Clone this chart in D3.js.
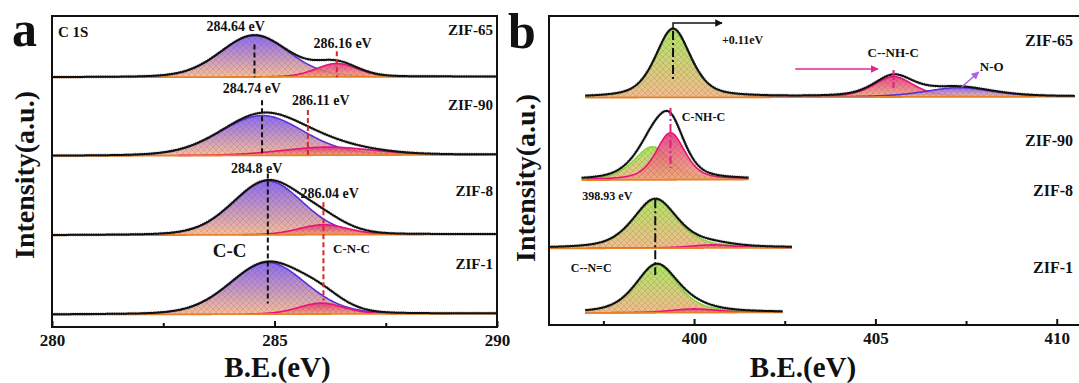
<!DOCTYPE html>
<html>
<head>
<meta charset="utf-8">
<script src="https://cdn.jsdelivr.net/npm/d3@7"></script>
<style>
body { margin: 0; background: #fff; }
text { font-family: "Liberation Serif", "Times New Roman", serif; font-weight: bold; fill: #111; }
</style>
</head>
<body>
<svg id="chart" width="1079" height="383"></svg>
<script>
// ---------- C 1s (panel a) ----------
var cSamples = ["ZIF-65", "ZIF-90", "ZIF-8", "ZIF-1"];
var cOffset = [80.3, 55.0, 29.5, 4.0];
var cMainCenter = [284.55, 284.72, 284.85, 284.85];
var cMainHeight = [13.4, 12.8, 17.3, 16.6];
var cMainFwhm = [1.8, 2.2, 1.85, 2.0];
var cSubCenter = [286.4, 286.2, 286.1, 286.05];
var cSubHeight = [4.3, 2.6, 3.2, 3.5];
var cSubFwhm = [1.1, 2.4, 1.3, 1.2];
var cBgRise = [0.2, 0.4, 0.3, 0.3];
var cTicks = [280, 285, 290];
var cMinor = [282.5, 287.5];
var cMainLabels = ["284.64 eV", "284.74 eV", "284.8 eV"];
var cSubLabels = ["286.16 eV", "286.11 eV", "286.04 eV"];

// ---------- N 1s (panel b) ----------
var nSamples = ["ZIF-65", "ZIF-90", "ZIF-8", "ZIF-1"];
var nOffset = [73.6, 46.9, 24.8, 3.9];
var nStart = [397.0, 396.9, 396.0, 397.0];
var nEnd = [410.5, 401.5, 402.7, 402.45];
var nBgRise = [0.3, 0.2, 0.2, 0.2];
var nCompSample = [0, 0, 0, 1, 1, 2, 2, 3, 3];
var nCompKind = ["green", "pink", "violet", "green", "pink", "green", "pink", "green", "pink"];
var nCompCenter = [399.42, 405.5, 407.3, 398.85, 399.35, 398.93, 400.5, 398.97, 400.0];
var nCompHeight = [22.2, 6.6, 3.0, 10.7, 15.2, 15.9, 1.0, 15.5, 1.2];
var nCompFwhm = [1.15, 1.3, 2.2, 1.2, 0.95, 1.45, 1.4, 1.38, 1.5];
var nTicks = [400, 405, 410];
var nMinor = [397.5, 402.5, 407.5];

var kindStyle = {
  violet: { top: "#7d58f0", bottom: "#f7b68a", line: "#5a2fd8" },
  pink:   { top: "#e6347f", bottom: "#f3a878", line: "#e8127a" },
  green:  { top: "#a2e44c", bottom: "#f1b27c", line: "#84d83c" }
};

var svg = d3.select("#chart");
var defs = svg.append("defs");

Object.keys(kindStyle).forEach(function(k) {
  var gr = defs.append("linearGradient").attr("id", "grad-" + k)
    .attr("x1", 0).attr("y1", 0).attr("x2", 0).attr("y2", 1);
  gr.append("stop").attr("offset", "0%").attr("stop-color", kindStyle[k].top);
  gr.append("stop").attr("offset", "100%").attr("stop-color", kindStyle[k].bottom);
});

var hatch = defs.append("pattern").attr("id", "hatch")
  .attr("width", 6).attr("height", 6).attr("patternUnits", "userSpaceOnUse");
hatch.append("path").attr("d", "M0,0L6,6M6,0L0,6M-1,5L1,7M5,-1L7,1")
  .attr("stroke", "rgba(90,60,70,0.28)").attr("stroke-width", 0.6);

function arrowMarker(id, color) {
  defs.append("marker").attr("id", id)
    .attr("viewBox", "0 0 10 10").attr("refX", 9).attr("refY", 5)
    .attr("markerWidth", 5).attr("markerHeight", 5).attr("orient", "auto")
    .append("path").attr("d", "M0,0L10,5L0,10z").attr("fill", color);
}
arrowMarker("arrBlack", "#111");
arrowMarker("arrPink", "#e0288a");
arrowMarker("arrViolet", "#b060f0");

// pseudo-Voigt line shape
function pv(x, c, h, w, eta) {
  var d = (x - c) / w;
  return h * ((1 - eta) * Math.exp(-4 * Math.LN2 * d * d) + eta / (1 + 4 * d * d));
}

function drawSpectrum(g, x, y, start, end, offset, bgRise, comps, eta) {
  var xs = d3.range(start, end + 0.001, 0.02);
  function bg(v) { return offset + bgRise * (v - start) / (end - start); }

  comps.forEach(function(cp) {
    var pts = xs.filter(function(v) { return pv(v, cp.c, cp.h, cp.w, eta) > cp.h * 0.02; });
    var area = d3.area()
      .x(function(v) { return x(v); })
      .y0(function(v) { return y(bg(v)); })
      .y1(function(v) { return y(bg(v) + pv(v, cp.c, cp.h, cp.w, eta)); });
    g.append("path").attr("d", area(pts)).attr("fill", "url(#grad-" + cp.kind + ")").attr("fill-opacity", 0.88);
    g.append("path").attr("d", area(pts)).attr("fill", "url(#hatch)");
    g.append("path").attr("d", area.lineY1()(pts))
      .attr("fill", "none").attr("stroke", kindStyle[cp.kind].line).attr("stroke-width", 1.6);
  });

  // background
  g.append("path")
    .attr("d", d3.line().x(function(v) { return x(v); }).y(function(v) { return y(bg(v)); })(xs))
    .attr("fill", "none").attr("stroke", "#e8812a").attr("stroke-width", 1.8);

  // envelope / raw data
  var env = d3.line()
    .x(function(v) { return x(v); })
    .y(function(v) {
      var s = bg(v);
      comps.forEach(function(cp) { s += pv(v, cp.c, cp.h, cp.w, eta); });
      return y(s);
    });
  g.append("path").attr("d", env(xs)).attr("fill", "none")
    .attr("stroke", "#555").attr("stroke-width", 3.4).attr("stroke-dasharray", "1,1.3").attr("opacity", 0.55);
  g.append("path").attr("d", env(xs)).attr("fill", "none")
    .attr("stroke", "#111").attr("stroke-width", 2);
}

function vline(g, xp, y1, y2, color, dash) {
  g.append("line").attr("x1", xp).attr("x2", xp).attr("y1", y1).attr("y2", y2)
    .attr("stroke", color).attr("stroke-width", 2).attr("stroke-dasharray", dash);
}

function label(g, xp, yp, txt, size, anchor) {
  return g.append("text").attr("x", xp).attr("y", yp).attr("font-size", size)
    .attr("text-anchor", anchor || "start").text(txt);
}

function frameAndAxis(left, right, top, bottom, x, ticks, minor, clipId) {
  defs.append("clipPath").attr("id", clipId).append("rect")
    .attr("x", left).attr("y", top).attr("width", right - left).attr("height", bottom - top);
  var ax = svg.append("g").attr("transform", "translate(0," + bottom + ")")
    .call(d3.axisBottom(x).tickValues(ticks).tickSizeInner(-6).tickSizeOuter(0).tickPadding(7).tickFormat(d3.format("d")));
  ax.select(".domain").remove();
  ax.selectAll("line").attr("stroke", "#111").attr("stroke-width", 2);
  ax.selectAll("text").attr("font-size", 17).attr("font-family", null).attr("fill", "#111");
  var mx = svg.append("g").attr("transform", "translate(0," + bottom + ")")
    .call(d3.axisBottom(x).tickValues(minor).tickSizeInner(-4).tickSizeOuter(0).tickFormat(""));
  mx.select(".domain").remove();
  mx.selectAll("line").attr("stroke", "#111").attr("stroke-width", 2);
  svg.append("rect").attr("x", left).attr("y", top).attr("width", right - left).attr("height", bottom - top)
    .attr("fill", "none").attr("stroke", "#111").attr("stroke-width", 2);
}

// ================= panel a =================
var aL = 52, aR = 497, aT = 16, aB = 327;
var xa = d3.scaleLinear().domain([280, 290]).range([aL, aR]);
var ya = d3.scaleLinear().domain([0, 100]).range([aB, aT]);
var ga = svg.append("g").attr("clip-path", "url(#clipA)");

cSamples.forEach(function(s, i) {
  drawSpectrum(ga, xa, ya, 280, 290, cOffset[i], cBgRise[i], [
    { c: cMainCenter[i], h: cMainHeight[i], w: cMainFwhm[i], kind: "violet" },
    { c: cSubCenter[i], h: cSubHeight[i], w: cSubFwhm[i], kind: "pink" }
  ], 0.15);
});
frameAndAxis(aL, aR, aT, aB, xa, cTicks, cMinor, "clipA");

function topA(i) { return ya(cOffset[i] + cMainHeight[i]); }
// dashed peak positions
vline(svg, xa(cMainCenter[0]), topA(0) + 9, ya(cOffset[0]), "#111", "5,3");
vline(svg, xa(cSubCenter[0]), ya(cOffset[0]) - 26, ya(cOffset[0]), "#d42828", "5,3");
vline(svg, xa(cMainCenter[1]), topA(1) - 16, ya(cOffset[1]), "#111", "5,3");
vline(svg, xa(cSubCenter[1] - 0.45), ya(cOffset[1]) - 46, ya(cOffset[1]), "#d42828", "5,3");
vline(svg, xa(cMainCenter[2]), topA(2) - 8, ya(cOffset[3]) - 11, "#111", "5,3");
vline(svg, xa(cSubCenter[2]), ya(cOffset[2]) - 33, ya(cOffset[3]) - 14, "#d42828", "5,3");

label(svg, aL + 6, aT + 21, "C 1S", 15);
var aLabelY = [35, 110, 196, 269];
cSamples.forEach(function(s, i) { label(svg, aR - 4, aLabelY[i], s, 15, "end"); });
label(svg, xa(284.13), 31, cMainLabels[0], 14, "middle");
label(svg, xa(286.53), 48, cSubLabels[0], 14, "middle");
label(svg, xa(284.49), 93, cMainLabels[1], 14, "middle");
label(svg, xa(286.04), 105, cSubLabels[1], 14, "middle");
label(svg, xa(284.6), 173, cMainLabels[2], 14, "middle");
label(svg, xa(286.24), 198, cSubLabels[2], 14, "middle");
label(svg, xa(283.99), 257, "C-C", 19, "middle");
label(svg, xa(286.73), 253, "C-N-C", 13, "middle");

label(svg, 12, 46, "a", 50);
label(svg, 0, 0, "Intensity(a.u.)", 28, "middle").attr("transform", "translate(34,175) rotate(-90)");
label(svg, (aL + aR) / 2 + 3, 377, "B.E.(eV)", 29, "middle");

// ================= panel b =================
var bL = 549, bR = 1093, bT = 16, bB = 325;
var xb = d3.scaleLinear().domain([396, 411]).range([bL, bR]);
var yb = d3.scaleLinear().domain([0, 100]).range([bB, bT]);
var gb = svg.append("g").attr("clip-path", "url(#clipB)");

nSamples.forEach(function(s, i) {
  var comps = [];
  nCompSample.forEach(function(si, j) {
    if (si === i) comps.push({ c: nCompCenter[j], h: nCompHeight[j], w: nCompFwhm[j], kind: nCompKind[j] });
  });
  drawSpectrum(gb, xb, yb, nStart[i], nEnd[i], nOffset[i], nBgRise[i], comps, 0.5);
});
frameAndAxis(bL, bR, bT, bB, xb, nTicks, nMinor, "clipB");

// ZIF-65 main peak marker and shift arrow
var top65 = yb(nOffset[0] + nCompHeight[0]);
vline(svg, xb(nCompCenter[0]), top65 + 2, yb(nOffset[0]) - 18, "#111", "9,3,2,3");
svg.append("path")
  .attr("d", "M" + xb(nCompCenter[0]) + "," + top65 + "V" + (top65 - 6) + "H" + xb(400.77))
  .attr("fill", "none").attr("stroke", "#111").attr("stroke-width", 1.5).attr("marker-end", "url(#arrBlack)");
label(svg, xb(400.77), 44, "+0.11eV", 12);

// C--NH-C of ZIF-65
vline(svg, xb(nCompCenter[1]), 70, 90, "#e0207a", "6,2,2,2");
svg.append("line").attr("x1", xb(402.79)).attr("x2", xb(405.07)).attr("y1", 69).attr("y2", 69)
  .attr("stroke", "#e0288a").attr("stroke-width", 1.6).attr("marker-end", "url(#arrPink)");
label(svg, xb(405.49), 57, "C--NH-C", 13, "middle");
svg.append("line").attr("x1", xb(407.38)).attr("x2", xb(407.85)).attr("y1", 87).attr("y2", 72)
  .attr("stroke", "#b060f0").attr("stroke-width", 1.6).attr("marker-end", "url(#arrViolet)");
label(svg, xb(407.88), 71, "N-O", 13);

// ZIF-90
vline(svg, xb(nCompCenter[4]), 108, 168, "#e0207a", "8,3,2,3");
label(svg, xb(399.66), 121, "C-NH-C", 12);

// ZIF-8 / ZIF-1
vline(svg, xb(nCompCenter[5]), yb(nOffset[2] + nCompHeight[5]), 275, "#111", "9,3,2,3");
label(svg, xb(396.92), 200, "398.93 eV", 12);
label(svg, xb(396.6), 272, "C--N=C", 12);

var bLabelY = [46, 146, 196, 273];
nSamples.forEach(function(s, i) { label(svg, 1073, bLabelY[i], s, 16, "end"); });

label(svg, 508, 48, "b", 50);
label(svg, 0, 0, "Intensity(a.u.)", 28, "middle").attr("transform", "translate(535,178) rotate(-90)");
label(svg, 803, 377, "B.E.(eV)", 29, "middle");
</script>
</body>
</html>
